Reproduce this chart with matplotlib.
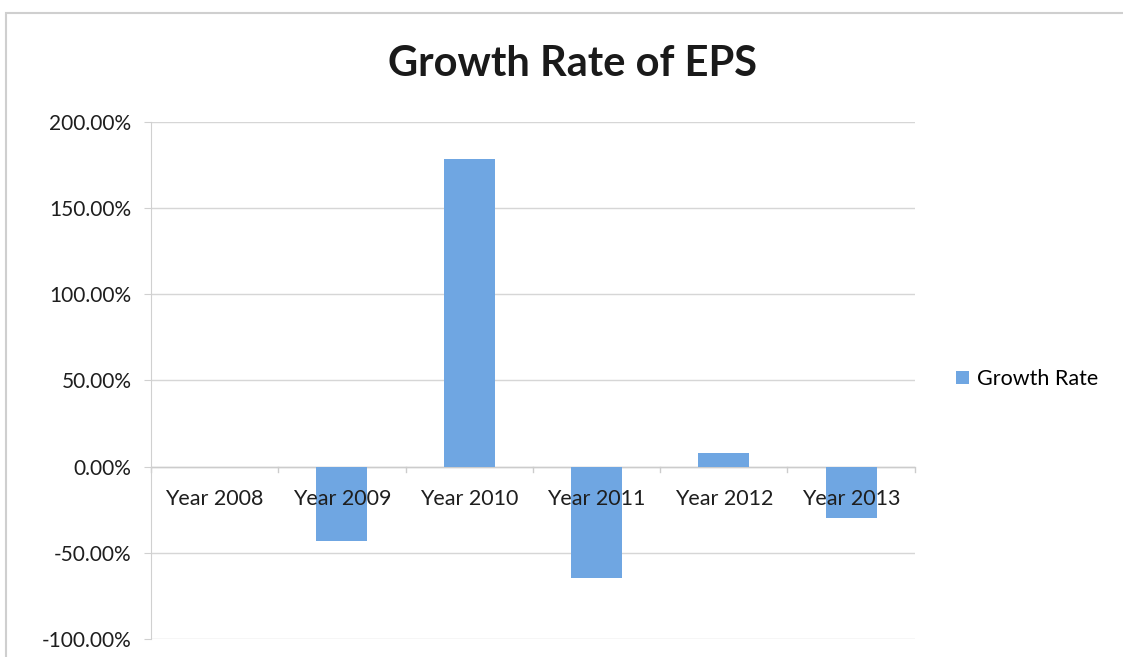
import matplotlib.pyplot as plt
from matplotlib.patches import Rectangle
from matplotlib.ticker import FuncFormatter
import numpy as np

# data
years = ['Year 2008', 'Year 2009', 'Year 2010', 'Year 2011', 'Year 2012', 'Year 2013']
growth = [0.0, -42.8, 178.1, -64.5, 8.0, -29.7]
yticks = [-100, -50, 0, 50, 100, 150, 200]

plt.rcParams['font.family'] = ['Lato', 'DejaVu Sans']

fig = plt.figure(figsize=(11.23, 6.57), dpi=100)
ax = fig.add_axes([0.1345, 0.027, 0.68, 0.788])

x = np.arange(len(years))
ax.bar(x, growth, width=0.4, color='#6fa6e2', label='Growth Rate', zorder=3)

ax.set_xlim(-0.5, len(years) - 0.5)
ax.set_ylim(-100, 200)
ax.set_yticks(yticks)
ax.yaxis.set_major_formatter(FuncFormatter(lambda v, p: f'{v:.2f}%'))
ax.tick_params(axis='y', length=5, color='#d0d0d0', labelsize=15, labelcolor='#1e1e1e', pad=9)
ax.grid(axis='y', color='#d6d6d6', linewidth=1, zorder=0)

for s in ['top', 'right', 'bottom']:
    ax.spines[s].set_visible(False)
ax.spines['left'].set_color('#d0d0d0')

# category axis sits on the zero line
ax.set_xticks([])
ax.axhline(0, color='#cccccc', linewidth=1, zorder=2)
for b in np.arange(-0.5, len(years), 1.0):
    ax.plot([b, b], [0, -3], color='#cccccc', linewidth=1, zorder=2, clip_on=False)
for xi, lab in zip(x, years):
    ax.text(xi, -19, lab, ha='center', va='center', fontsize=15.5, color='#1e1e1e', zorder=4)

fig.text(0.51, 0.903, 'Growth Rate of EPS', ha='center', va='center',
         fontsize=30, fontweight='bold', color='#1a1a1a')

fig.legend(loc='center left', bbox_to_anchor=(0.834, 0.423), frameon=False,
           fontsize=15.5, handlelength=0.6, handleheight=0.6, handletextpad=0.4)

fig.patches.append(Rectangle((0.005, -0.1), 1.2, 1.08, transform=fig.transFigure,
                             fill=False, edgecolor='#cfcfcf', linewidth=1.5))

fig.savefig('out.png', dpi=100)
